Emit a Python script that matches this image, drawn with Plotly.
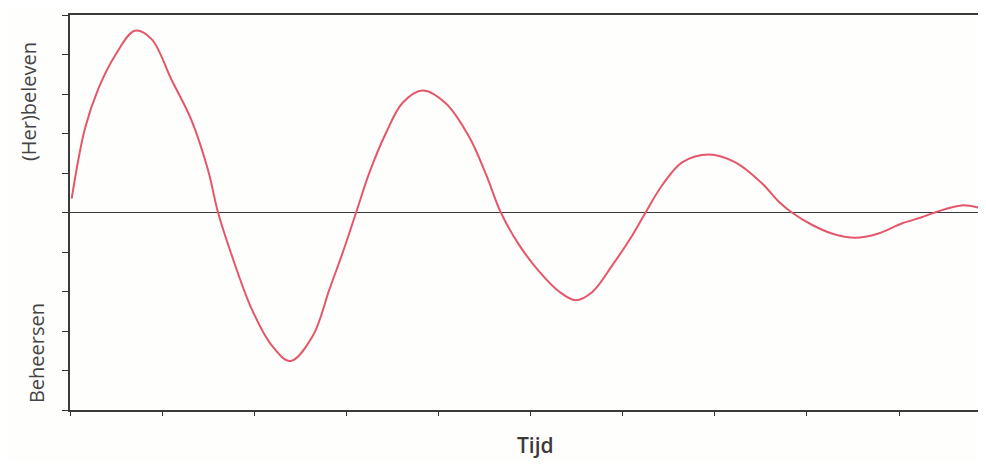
import plotly.graph_objects as go

# Time (in x-tick units) and response values (in y-tick units)
tijd = [0.018, 0.163, 0.307, 0.488, 0.704, 0.885, 1.102, 1.318, 1.499, 1.607,
        1.751, 1.968, 2.185, 2.393, 2.636, 2.817, 2.961, 3.106, 3.250, 3.431,
        3.611, 3.828, 4.081, 4.334, 4.515, 4.677, 4.875, 5.092, 5.309, 5.490,
        5.670, 5.886, 6.103, 6.248, 6.428, 6.645, 6.934, 7.223, 7.511, 7.692,
        7.836, 8.053, 8.270, 8.523, 8.776, 9.028, 9.245, 9.390, 9.679, 9.913]
waarde = [0.35, 2.13, 3.13, 3.97, 4.60, 4.39, 3.36, 2.34, 1.07, 0.0,
          -1.05, -2.42, -3.35, -3.76, -3.12, -1.94, -1.01, 0.0, 1.01, 2.02,
          2.78, 3.09, 2.76, 1.91, 0.97, 0.0, -0.82, -1.49, -2.00, -2.22,
          -2.01, -1.34, -0.58, 0.0, 0.69, 1.27, 1.47, 1.27, 0.74, 0.28,
          0.0, -0.31, -0.53, -0.64, -0.53, -0.28, -0.12, 0.0, 0.18, 0.09]

x_ticks = list(range(0, 10))
y_ticks = list(range(-5, 6))

label_top = "(Her)beleven"
label_bottom = "Beheersen"
label_x = "Tijd"

fig = go.Figure()
fig.add_trace(go.Scatter(
    x=tijd, y=waarde, mode="lines",
    line=dict(color="#e4566a", width=2, shape="spline", smoothing=1.0),
    hoverinfo="skip", showlegend=False,
))

# page body adds an 8px offset, margins below compensate for it
fig.update_layout(
    width=978, height=453,
    margin=dict(l=62, r=2, t=7, b=51),
    paper_bgcolor="#fefefc", plot_bgcolor="#fefefc",
    showlegend=False,
)
fig.update_xaxes(
    range=[0, 9.9], tickvals=x_ticks, showticklabels=False,
    ticks="outside", ticklen=4, tickwidth=1.2, tickcolor="#333",
    showgrid=False, zeroline=False,
    showline=True, linecolor="#3a3a3a", linewidth=1.6, mirror=True,
)
fig.update_yaxes(
    range=[-5, 5], tickvals=y_ticks, showticklabels=False,
    ticks="outside", ticklen=6, tickwidth=1.2, tickcolor="#333",
    showgrid=False, zeroline=True, zerolinecolor="#3a3a3a", zerolinewidth=1.3,
    showline=True, linecolor="#3a3a3a", linewidth=1.6, mirror=True,
)

def px_x(px):
    return (px - 70) / 914

def px_y(py):
    return (410 - py) / 395

fig.add_annotation(text=label_top, xref="paper", yref="paper",
                   x=px_x(29), y=px_y(102), xanchor="center", yanchor="middle",
                   textangle=-90, showarrow=False,
                   font=dict(family="Open Sans", size=20, color="#444"))
fig.add_annotation(text=label_bottom, xref="paper", yref="paper",
                   x=px_x(36), y=px_y(353), xanchor="center", yanchor="middle",
                   textangle=-90, showarrow=False,
                   font=dict(family="Open Sans", size=20, color="#444"))
fig.add_annotation(text=label_x, xref="paper", yref="paper",
                   x=px_x(537), y=px_y(461), xanchor="center", yanchor="bottom",
                   showarrow=False,
                   font=dict(family="Open Sans", size=21, color="#3a3a3a", weight=600))

fig.write_html("out.html")
